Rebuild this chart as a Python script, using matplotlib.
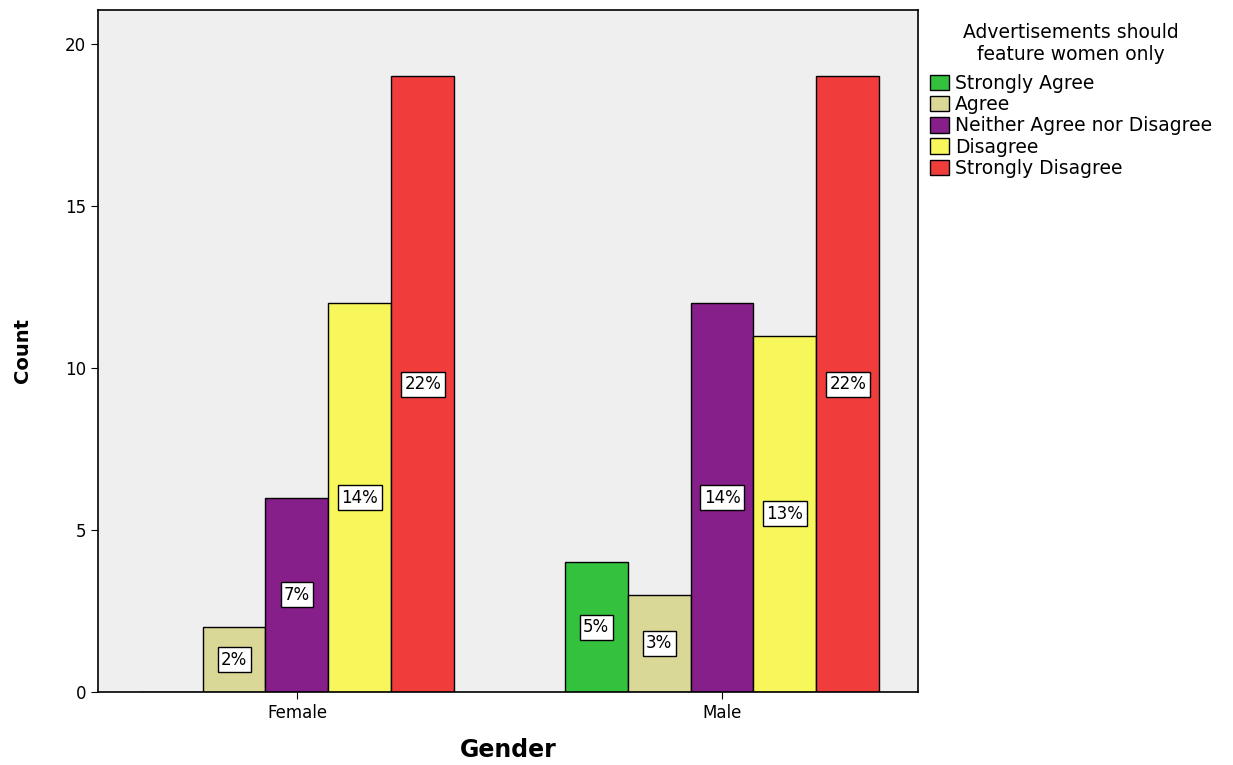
import numpy as np
import matplotlib.pyplot as plt
from matplotlib.patches import Patch

# Data
genders = ["Female", "Male"]
responses = ["Strongly Agree", "Agree", "Neither Agree nor Disagree",
             "Disagree", "Strongly Disagree"]
counts_female = [0, 2, 6, 12, 19]
counts_male = [4, 3, 12, 11, 19]
pct_female = ["", "2%", "7%", "14%", "22%"]
pct_male = ["5%", "3%", "14%", "13%", "22%"]
colors = ["#34c23e", "#d9d896", "#861f8a", "#f7f75c", "#f13c3c"]


def main():
    fig = plt.figure(figsize=(12.33, 7.65), dpi=100)
    ax = fig.add_axes([0.0795, 0.0954, 0.665, 0.8916])
    ax.set_facecolor("#efeff0")

    counts = np.array([counts_female, counts_male])
    pcts = [pct_female, pct_male]
    x = np.arange(len(genders))
    w = 0.148

    for i, resp in enumerate(responses):
        pos = x + (i - 2) * w
        vals = counts[:, i]
        ax.bar(pos, vals, width=w, color=colors[i], edgecolor="black",
               linewidth=1.0, zorder=2)
        for g in range(len(genders)):
            lab = pcts[g][i]
            if lab:
                ax.text(pos[g], vals[g] / 2, lab, ha="center", va="center",
                        fontsize=12, zorder=3,
                        bbox=dict(boxstyle="square,pad=0.2", fc="white",
                                  ec="black", lw=1.0))

    ax.set_xlim(-0.468, 1.461)
    ax.set_ylim(0, 21.05)
    ax.set_xticks(x)
    ax.set_xticklabels(genders, fontsize=12)
    ax.set_yticks([0, 5, 10, 15, 20])
    ax.tick_params(axis="y", labelsize=12, length=5)
    ax.tick_params(axis="x", length=5)
    ax.set_ylabel("Count", fontsize=14, fontweight="bold", labelpad=24)
    ax.set_xlabel("Gender", fontsize=17, fontweight="bold", labelpad=12)
    for s in ax.spines.values():
        s.set_linewidth(1.2)

    handles = [Patch(facecolor=c, edgecolor="black", label=r)
               for c, r in zip(colors, responses)]
    leg = fig.legend(handles=handles, loc="upper left",
                     bbox_to_anchor=(0.744, 0.987),
                     title="Advertisements should\nfeature women only",
                     title_fontsize=13.5, fontsize=13.5, frameon=False,
                     alignment="center",
                     handlelength=1.0, handleheight=0.9, handletextpad=0.3,
                     labelspacing=0.12, borderaxespad=0.3)
    leg.get_title().set_multialignment("center")
    leg._legend_box.sep = 7

    fig.savefig("out.png", dpi=100)


if __name__ == "__main__":
    main()
